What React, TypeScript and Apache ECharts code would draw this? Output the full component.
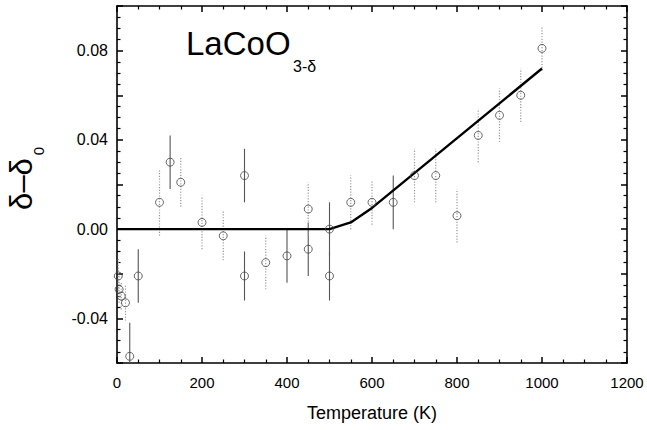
import React, { useEffect, useRef } from "react";
import * as echarts from "echarts";

// Measured data (T in K, delta - delta0)
const temps = [3, 5, 10, 20, 30, 50, 100, 125, 150, 200, 250, 300, 300, 350, 400, 450, 450, 500, 500, 550, 600, 650, 700, 750, 800, 850, 900, 950, 1000];
const values = [-0.021, -0.027, -0.03, -0.033, -0.057, -0.021, 0.012, 0.03, 0.021, 0.003, -0.003, 0.024, -0.021, -0.015, -0.012, -0.009, 0.009, 0.0, -0.021, 0.012, 0.012, 0.012, 0.024, 0.024, 0.006, 0.042, 0.051, 0.06, 0.081];
const errors = [0.008, 0.006, 0.006, 0.008, 0.015, 0.012, 0.015, 0.012, 0.011, 0.012, 0.011, 0.012, 0.011, 0.012, 0.012, 0.012, 0.012, 0.012, 0.011, 0.012, 0.01, 0.012, 0.012, 0.012, 0.012, 0.012, 0.012, 0.012, 0.01];
// 1 = solid error bar, 0 = dotted
const errSolid = [0, 0, 0, 0, 1, 1, 0, 1, 0, 0, 0, 1, 1, 0, 1, 1, 0, 1, 1, 0, 0, 1, 0, 0, 0, 0, 0, 0, 0];

// Model curve
const modelT = [0, 500, 550, 600, 1000];
const modelV = [0, 0, 0.003, 0.0095, 0.072];

const xTicks = [0, 200, 400, 600, 800, 1000, 1200];

const FONT = "'Liberation Sans', Arial, Helvetica, sans-serif";

export default function App() {
  const ref = useRef<HTMLDivElement>(null);
  useEffect(() => {
    if (!ref.current) return;
    const chart = echarts.init(ref.current, null, { renderer: "svg" });
    const errData = temps.map((t, i) => [t, values[i] - errors[i], values[i] + errors[i], errSolid[i]]);
    const pts = temps.map((t, i) => [t, values[i]]);
    const model = modelT.map((t, i) => [t, modelV[i]]);
    const axisCommon = {
      axisLine: { show: true, onZero: false, lineStyle: { color: "#000", width: 1.6 } },
      axisTick: { show: true, inside: true, length: 6, lineStyle: { color: "#000", width: 1.5 } },
      minorTick: { show: true, splitNumber: 4, length: 3.5, lineStyle: { color: "#000", width: 1.2 } },
      splitLine: { show: false },
      minorSplitLine: { show: false },
    };
    chart.setOption({
      animation: false,
      backgroundColor: "#fff",
      grid: { left: 117, top: 6, right: 20, bottom: 67, containLabel: false },
      xAxis: [
        {
          type: "value",
          min: xTicks[0],
          max: xTicks[xTicks.length - 1],
          interval: 200,
          ...axisCommon,
          axisLabel: { fontSize: 15, color: "#000", margin: 12, fontFamily: FONT, formatter: (v: number) => String(v) },
          name: "Temperature (K)",
          nameLocation: "middle",
          nameGap: 41,
          nameTextStyle: { fontSize: 18, color: "#000", fontFamily: FONT },
        },
        {
          type: "value",
          position: "top",
          min: 0,
          max: 1200,
          interval: 200,
          ...axisCommon,
          axisLabel: { show: false },
        },
      ],
      yAxis: [
        {
          type: "value",
          min: -0.06,
          max: 0.1,
          interval: 0.02,
          ...axisCommon,
          axisLabel: {
            fontSize: 16,
            color: "#000",
            margin: 9,
            fontFamily: FONT,
            formatter: (v: number) => {
              const k = Math.round(v * 100);
              return k % 4 === 0 ? (Math.abs(v) < 1e-9 ? "0.00" : v.toFixed(2)) : "";
            },
          },
        },
        {
          type: "value",
          position: "right",
          min: -0.06,
          max: 0.1,
          interval: 0.02,
          ...axisCommon,
          axisLabel: { show: false },
        },
      ],
      series: [
        {
          type: "custom",
          xAxisIndex: 0,
          yAxisIndex: 0,
          data: errData,
          encode: { x: 0, y: [1, 2] },
          z: 2,
          renderItem: (params: any, api: any) => {
            const t = api.value(0);
            const lo = api.coord([t, api.value(1)]);
            const hi = api.coord([t, api.value(2)]);
            const cs = params.coordSys;
            const clampY = (y: number) => Math.max(cs.y, Math.min(cs.y + cs.height, y));
            const solid = api.value(3) === 1;
            return {
              type: "line",
              shape: { x1: lo[0], y1: clampY(lo[1]), x2: hi[0], y2: clampY(hi[1]) },
              style: {
                stroke: solid ? "#555" : "#999",
                lineWidth: solid ? 1.1 : 1.2,
                lineDash: solid ? null : [1.2, 1.6],
              },
            };
          },
        },
        {
          type: "line",
          xAxisIndex: 0,
          yAxisIndex: 0,
          data: model,
          showSymbol: false,
          symbol: "none",
          z: 3,
          lineStyle: { color: "#000", width: 2.4 },
        },
        {
          type: "scatter",
          xAxisIndex: 0,
          yAxisIndex: 0,
          data: pts,
          symbol: "circle",
          symbolSize: 8,
          z: 4,
          itemStyle: { color: "rgba(255,255,255,0)", borderColor: "#444", borderWidth: 1 },
        },
      ],
      graphic: [
        {
          type: "text",
          x: 186,
          y: 43,
          style: { text: "LaCoO", fontSize: 33, fontFamily: FONT, fill: "#000", verticalAlign: "middle", align: "left" },
        },
        {
          type: "text",
          x: 293,
          y: 66,
          style: { text: "3-δ", fontSize: 16, fontFamily: FONT, fill: "#000", verticalAlign: "middle", align: "left" },
        },
        {
          type: "group",
          x: 21,
          y: 184,
          rotation: Math.PI / 2,
          children: [
            {
              type: "text",
              x: 0,
              y: 0,
              style: { text: "δ–δ", fontSize: 31, fontFamily: FONT, fill: "#000", verticalAlign: "middle", align: "center" },
            },
            {
              type: "text",
              x: 33,
              y: 17,
              style: { text: "0", fontSize: 15, fontFamily: FONT, fill: "#000", verticalAlign: "middle", align: "center" },
            },
          ],
        },
      ],
    });
    return () => chart.dispose();
  }, []);
  return <div ref={ref} style={{ width: 647, height: 430, position: "absolute", left: 0, top: 0 }} />;
}
